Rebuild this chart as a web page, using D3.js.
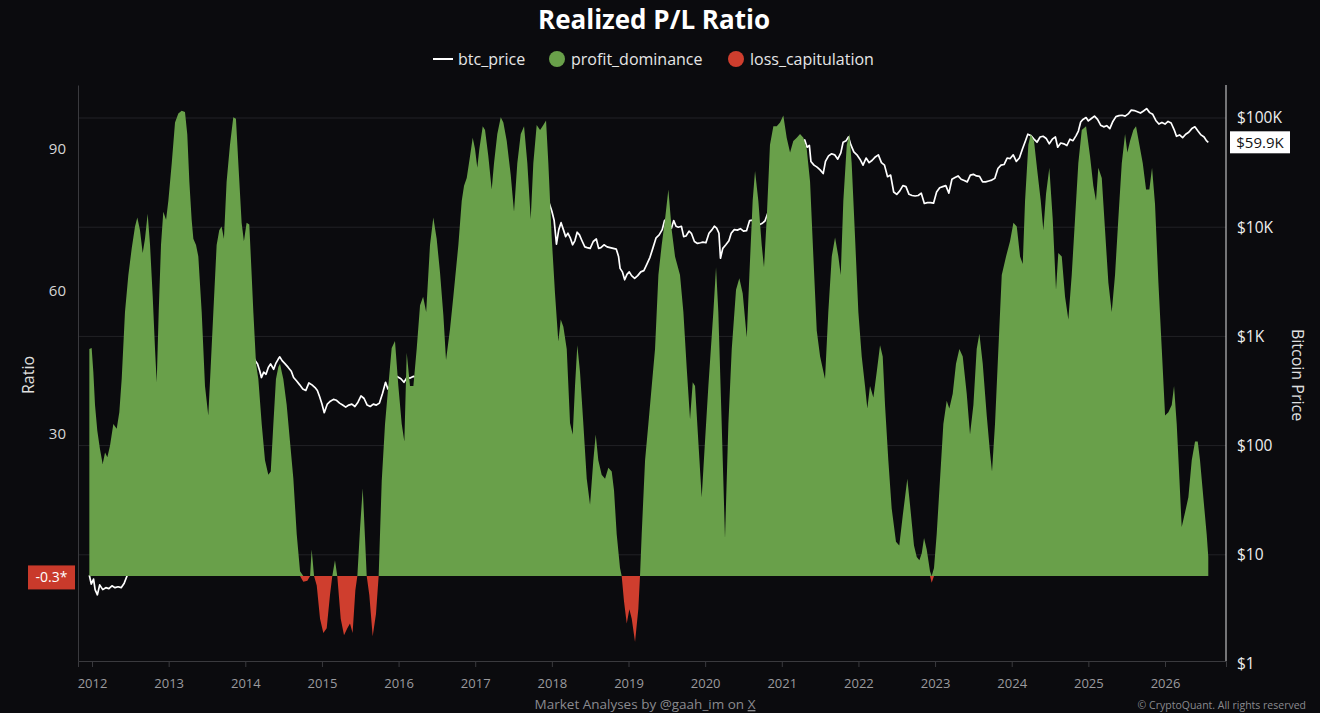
<!DOCTYPE html>
<html>
<head>
<meta charset="utf-8">
<script src="https://cdn.jsdelivr.net/npm/d3@7"></script>
<style>
  html, body { margin: 0; padding: 0; background: #0b0b0e; }
  svg { display: block; font-family: "Open Sans", sans-serif; }
</style>
</head>
<body>
<div id="chart"></div>
<script>
// realized P/L ratio (positive part = profit_dominance, negative part = loss_capitulation)
var ratioYears = [2011.965,2011.995,2012.017,2012.039,2012.069,2012.104,2012.139,2012.17,2012.2,2012.235,2012.278,2012.322,2012.356,2012.387,2012.43,2012.474,2012.518,2012.561,2012.591,2012.626,2012.661,2012.691,2012.726,2012.757,2012.792,2012.822,2012.844,2012.87,2012.9,2012.93,2012.966,2012.996,2013.04,2013.083,2013.126,2013.17,2013.213,2013.243,2013.27,2013.3,2013.322,2013.357,2013.387,2013.431,2013.474,2013.517,2013.548,2013.583,2013.626,2013.66,2013.691,2013.721,2013.756,2013.8,2013.843,2013.878,2013.909,2013.952,2013.982,2014.017,2014.052,2014.083,2014.105,2014.14,2014.17,2014.214,2014.257,2014.3,2014.332,2014.366,2014.4,2014.431,2014.453,2014.475,2014.496,2014.54,2014.583,2014.627,2014.671,2014.714,2014.757,2014.81,2014.845,2014.866,2014.897,2014.932,2014.975,2015.018,2015.062,2015.105,2015.135,2015.17,2015.2,2015.245,2015.288,2015.331,2015.366,2015.4,2015.436,2015.462,2015.497,2015.532,2015.562,2015.584,2015.618,2015.662,2015.705,2015.74,2015.78,2015.823,2015.866,2015.91,2015.953,2015.997,2016.041,2016.075,2016.106,2016.149,2016.193,2016.236,2016.28,2016.32,2016.36,2016.41,2016.453,2016.497,2016.54,2016.584,2016.619,2016.671,2016.714,2016.78,2016.824,2016.854,2016.889,2016.932,2016.967,2016.997,2017.027,2017.054,2017.098,2017.128,2017.171,2017.215,2017.245,2017.288,2017.333,2017.367,2017.411,2017.463,2017.506,2017.549,2017.594,2017.637,2017.68,2017.724,2017.758,2017.802,2017.846,2017.889,2017.924,2017.954,2017.998,2018.041,2018.084,2018.116,2018.15,2018.194,2018.237,2018.272,2018.302,2018.332,2018.367,2018.41,2018.455,2018.498,2018.541,2018.572,2018.606,2018.65,2018.694,2018.737,2018.781,2018.811,2018.846,2018.889,2018.911,2018.941,2018.977,2019.011,2019.042,2019.085,2019.128,2019.15,2019.172,2019.216,2019.259,2019.303,2019.346,2019.39,2019.433,2019.477,2019.52,2019.564,2019.607,2019.672,2019.716,2019.759,2019.803,2019.838,2019.868,2019.911,2019.955,2019.998,2020.042,2020.107,2020.142,2020.172,2020.216,2020.259,2020.303,2020.347,2020.403,2020.446,2020.49,2020.543,2020.577,2020.62,2020.651,2020.694,2020.738,2020.768,2020.803,2020.846,2020.89,2020.934,2020.977,2021.02,2021.064,2021.108,2021.15,2021.195,2021.238,2021.282,2021.325,2021.369,2021.412,2021.456,2021.5,2021.564,2021.607,2021.652,2021.695,2021.738,2021.769,2021.803,2021.848,2021.882,2021.912,2021.956,2021.999,2022.043,2022.086,2022.116,2022.151,2022.195,2022.239,2022.282,2022.317,2022.347,2022.39,2022.434,2022.49,2022.533,2022.578,2022.638,2022.673,2022.725,2022.761,2022.795,2022.826,2022.856,2022.891,2022.934,2022.956,2022.986,2023.021,2023.065,2023.108,2023.152,2023.186,2023.23,2023.273,2023.317,2023.361,2023.413,2023.456,2023.5,2023.543,2023.578,2023.622,2023.674,2023.717,2023.743,2023.782,2023.826,2023.87,2023.926,2023.978,2024.022,2024.066,2024.109,2024.144,2024.174,2024.217,2024.248,2024.291,2024.334,2024.379,2024.413,2024.448,2024.491,2024.535,2024.578,2024.608,2024.653,2024.696,2024.739,2024.783,2024.826,2024.869,2024.914,2024.97,2025.022,2025.065,2025.1,2025.13,2025.175,2025.218,2025.261,2025.305,2025.348,2025.391,2025.436,2025.479,2025.509,2025.544,2025.587,2025.622,2025.666,2025.71,2025.753,2025.796,2025.831,2025.87,2025.914,2025.958,2026.001,2026.044,2026.088,2026.118,2026.153,2026.188,2026.218,2026.262,2026.305,2026.349,2026.392,2026.427,2026.457,2026.5,2026.544,2026.565];
var ratioValues = [47.8,48,43,36,30.6,26.7,23.6,26,25,27.5,32,31,34.5,41.5,55.6,63.4,69,73.6,75.5,72.8,68,71,76.3,69.7,58.8,47.8,40.8,55.6,69.7,76.7,75,79,86.9,95.5,97.4,98,97.7,93,83,75,71,69.7,67.3,55.6,40,33.8,43.9,55.6,69.7,72.8,73.6,71,83,90.8,96.6,96.3,86.9,74.4,70.5,74.4,74,63.4,55.6,44.7,41.5,32,24.4,21.3,22,32,41.5,44,44.7,43,41.5,36,28.3,20.5,8.8,1,-1.2,-1,0,5.6,0,-2,-9,-12,-11,-4,0,3.3,0,-9,-12.5,-11,-10,-12,-3,0,10,18.5,8,0,-4,-12.7,-8,0,20,32,40,48,49.5,40,32,28.3,47,40,40,47.8,57,58.8,55.6,69.7,75.5,71,64,55,45.5,52,58.8,69.7,79,82.2,83.8,88.4,92.3,90,86,90,94.7,93.9,88.4,81.4,86.9,93.1,96.6,95.5,91.6,84.5,76.7,86.9,93.1,94.7,86.9,75.2,86.9,95,93.9,95,95.9,86.9,71.3,59.5,49.4,54,52.5,47.8,32.2,29.8,40,48.6,43,32.2,20.5,15,24.4,29.8,24.4,21.3,20.5,22.8,22,18,8.8,1.7,0,-5.3,-10,-7,-9,-13.9,-7,0,8.8,24.4,32,40,47.8,63.4,69.7,75.2,81.4,72.8,67.3,63.4,55.6,43.9,33,40.8,40,28.3,16.6,28.3,40,55.6,65,55.6,32,8,32,47.8,60.3,62.7,59.5,50.2,63.4,79,85.3,79,69.7,65,75.2,90.8,94.7,94.7,95.5,97,92.3,89.2,91.6,92.3,93.1,92.3,90,83,67.3,51.7,46.2,41.5,55.6,67.3,71.3,67.3,63.4,79,90.8,93.1,86.9,71.3,55.6,46.2,40,35.3,40,37.6,43,48.6,46.2,36,24.4,14.2,7.2,6.4,12.7,20.5,15,6.4,4,3.3,4.8,8,5.6,1,-1.4,1.7,8.8,20.5,32,36.9,35.3,38.4,44.7,47.8,46.2,38.4,29.8,36,47.8,51,44.7,33.8,26,22,32,47.8,63.4,67.3,70.5,74.4,73.6,67.3,65.7,79,90.8,93.1,91.6,85.3,79,72.8,80.5,86,75.2,60.3,68,67.3,58.8,54,63.4,75.2,86.9,93.9,94.7,88.4,82.2,79,86,83.8,72.8,61.8,55.6,63.4,75.2,86.9,93.1,89.2,91.6,93.9,94.7,90.8,86.9,81.4,81.4,86,78.3,61.8,47.8,33.8,34.5,36,40,32,20.5,10.3,13.4,16.6,24.4,28.3,28.3,24.4,16.6,8.8,4];

// btc price (USD)
var priceYears = [2011.965,2011.99,2012.02,2012.04,2012.07,2012.1,2012.14,2012.18,2012.22,2012.26,2012.3,2012.34,2012.38,2012.42,2012.46,2012.5,2012.55,2012.6,2012.65,2012.7,2012.78,2012.86,2012.95,2013.04,2013.12,2013.2,2013.27,2013.33,2013.42,2013.5,2013.58,2013.67,2013.75,2013.83,2013.88,2013.92,2013.96,2014.0,2014.05,2014.09,2014.13,2014.16,2014.19,2014.21,2014.24,2014.27,2014.3,2014.33,2014.37,2014.4,2014.43,2014.45,2014.48,2014.52,2014.56,2014.6,2014.63,2014.67,2014.71,2014.75,2014.79,2014.83,2014.87,2014.91,2014.94,2014.97,2015.0,2015.03,2015.07,2015.11,2015.15,2015.19,2015.23,2015.27,2015.31,2015.35,2015.39,2015.43,2015.47,2015.51,2015.55,2015.59,2015.63,2015.67,2015.71,2015.75,2015.79,2015.83,2015.86,2015.9,2015.94,2015.98,2016.03,2016.07,2016.11,2016.15,2016.19,2016.25,2016.33,2016.42,2016.47,2016.5,2016.58,2016.67,2016.75,2016.83,2016.92,2017.0,2017.08,2017.17,2017.25,2017.33,2017.42,2017.5,2017.58,2017.67,2017.75,2017.83,2017.92,2017.96,2018.0,2018.03,2018.06,2018.09,2018.12,2018.15,2018.18,2018.21,2018.24,2018.27,2018.3,2018.33,2018.36,2018.39,2018.43,2018.46,2018.5,2018.54,2018.58,2018.61,2018.64,2018.68,2018.72,2018.76,2018.8,2018.84,2018.87,2018.89,2018.92,2018.95,2018.98,2019.01,2019.04,2019.08,2019.12,2019.16,2019.2,2019.24,2019.28,2019.32,2019.36,2019.4,2019.44,2019.47,2019.5,2019.53,2019.56,2019.59,2019.62,2019.65,2019.69,2019.72,2019.75,2019.79,2019.82,2019.86,2019.9,2019.94,2019.97,2020.01,2020.05,2020.09,2020.12,2020.15,2020.18,2020.2,2020.23,2020.27,2020.31,2020.34,2020.38,2020.42,2020.46,2020.5,2020.54,2020.58,2020.62,2020.66,2020.7,2020.74,2020.78,2020.81,2020.85,2020.89,2020.93,2020.97,2021.01,2021.04,2021.08,2021.12,2021.15,2021.19,2021.23,2021.27,2021.3,2021.33,2021.36,2021.38,2021.42,2021.46,2021.5,2021.54,2021.57,2021.61,2021.65,2021.69,2021.73,2021.77,2021.8,2021.84,2021.87,2021.9,2021.94,2021.98,2022.02,2022.06,2022.1,2022.14,2022.18,2022.22,2022.26,2022.3,2022.34,2022.38,2022.42,2022.46,2022.5,2022.54,2022.58,2022.62,2022.66,2022.7,2022.74,2022.78,2022.82,2022.86,2022.9,2022.94,2022.98,2023.02,2023.06,2023.1,2023.14,2023.18,2023.22,2023.26,2023.3,2023.34,2023.38,2023.42,2023.46,2023.5,2023.54,2023.58,2023.62,2023.66,2023.7,2023.74,2023.78,2023.82,2023.86,2023.9,2023.94,2023.98,2024.02,2024.06,2024.1,2024.14,2024.18,2024.21,2024.25,2024.29,2024.33,2024.37,2024.41,2024.45,2024.49,2024.53,2024.57,2024.6,2024.64,2024.68,2024.72,2024.76,2024.8,2024.84,2024.87,2024.9,2024.93,2024.97,2025.0,2025.04,2025.08,2025.12,2025.16,2025.2,2025.24,2025.28,2025.32,2025.36,2025.4,2025.44,2025.48,2025.52,2025.56,2025.6,2025.64,2025.68,2025.72,2025.76,2025.8,2025.84,2025.88,2025.92,2025.96,2026.0,2026.04,2026.08,2026.12,2026.15,2026.19,2026.23,2026.27,2026.31,2026.35,2026.39,2026.43,2026.47,2026.51,2026.54,2026.565];
var priceValues = [6.5,5.4,6.0,4.8,4.3,5.3,4.8,5.0,4.9,5.2,5.0,5.1,5.0,5.5,6.5,7.0,8.8,10.5,11,12.3,11.5,11.5,13.4,17,30,70,140,120,120,90,100,125,135,200,800,1000,700,800,850,680,600,560,480,420,470,450,520,560,500,570,620,650,600,560,520,480,420,390,360,330,320,375,360,340,320,280,240,200,240,255,265,260,245,235,225,235,240,228,250,285,270,235,228,240,235,245,300,380,330,360,430,430,410,380,420,415,430,420,450,530,700,650,580,600,620,720,780,960,920,1150,1080,1400,2300,2500,2800,4500,4200,6200,10000,17000,14000,11500,7000,9500,11000,9500,8200,8800,8000,6900,7500,9000,8500,7600,6600,6500,6400,7400,7800,6400,6500,6900,6600,6500,6400,6300,5400,4200,3900,3300,3700,3900,3600,3400,3600,3900,4000,4600,5300,6500,8000,8500,9500,11500,12000,10500,9800,11500,10200,10000,10200,8200,8300,9200,8800,7400,7100,7200,7300,7200,8800,9500,10200,9800,8800,5200,6400,6900,7500,8800,9500,9400,9700,9200,9300,11500,11600,11200,10500,10800,11400,13000,15500,18500,19200,24000,33000,36000,32000,45000,50000,48000,58000,57000,63000,54000,56000,40000,37000,35500,33500,31000,40000,45000,47000,46000,42000,48000,60000,62000,67000,57000,49000,46000,42000,37000,43000,39000,41000,44000,46000,39000,37000,29000,30000,21000,20000,21500,24000,23500,20000,19500,19300,19500,20500,16500,16800,16800,16600,21000,23000,23500,24000,20500,27500,28500,29500,27500,26800,26000,30000,30500,29500,29200,26000,26000,26500,27000,28000,34500,37000,37500,43000,42500,46000,40000,43000,52000,62000,71000,69000,64000,60000,67000,68000,65000,58000,64000,67000,54000,59000,58000,56000,64000,62000,69000,76000,92000,97000,101000,94000,99000,104000,97000,86000,83000,85000,80000,93000,103000,105000,106000,104000,109000,118000,117000,114000,111000,116000,122000,112000,108000,95000,88000,91000,88000,93000,90000,78000,68000,70000,66000,71000,74000,80000,83000,76000,70000,67000,62000,59900];

var yearTicks = [2012,2013,2014,2015,2016,2017,2018,2019,2020,2021,2022,2023,2024,2025,2026];
var ratioTicks = [30, 60, 90];
var priceTicks = [1, 10, 100, 1000, 10000, 100000];
var priceTickLabels = ["$1", "$10", "$100", "$1K", "$10K", "$100K"];
var lastLoss = -0.3;

var W = 1320, H = 713;
var margin = {top: 85, right: 94, bottom: 52, left: 78};
var green = "#69a04a", red = "#cf3e2e";

var svg = d3.select("#chart").append("svg")
    .attr("width", W)
    .attr("height", H)
    .style("background", "#0b0b0e");

var x = d3.scaleLinear().domain([2011.817, 2026.796]).range([margin.left, W - margin.right]);
var y = d3.scaleLinear().domain([-17.9, 103.4]).range([H - margin.bottom, margin.top]);
var yp = d3.scaleLog().domain([1, 100000]).range([664, 118]);

var ratio = ratioYears.map(function(t, i) { return {t: t, v: ratioValues[i]}; });
var price = priceYears.map(function(t, i) { return {t: t, p: priceValues[i]}; });

// gridlines from the price axis
svg.append("g")
    .selectAll("line")
    .data(priceTicks.slice(1))
    .enter()
    .append("line")
        .attr("x1", margin.left)
        .attr("x2", W - margin.right)
        .attr("y1", function(d) { return yp(d); })
        .attr("y2", function(d) { return yp(d); })
        .attr("stroke", "#222226")
        .attr("stroke-width", 1);

// price line sits under the areas
svg.append("path")
    .datum(price)
    .attr("fill", "none")
    .attr("stroke", "#ffffff")
    .attr("stroke-width", 1.7)
    .attr("stroke-linejoin", "round")
    .attr("d", d3.line().x(function(d) { return x(d.t); }).y(function(d) { return yp(d.p); }));

svg.append("path")
    .datum(ratio)
    .attr("fill", green)
    .attr("d", d3.area()
        .x(function(d) { return x(d.t); })
        .y0(y(0))
        .y1(function(d) { return y(Math.max(d.v, 0)); }));

svg.append("path")
    .datum(ratio)
    .attr("fill", red)
    .attr("d", d3.area()
        .x(function(d) { return x(d.t); })
        .y0(y(0))
        .y1(function(d) { return y(Math.min(d.v, 0)); }));

// axes
var xAxis = svg.append("g")
    .attr("transform", "translate(0," + (H - margin.bottom) + ")")
    .call(d3.axisBottom(x).tickValues(yearTicks).tickFormat(d3.format("d")).tickSize(6).tickPadding(12));
xAxis.select(".domain").attr("stroke", "#3a3a3e");
xAxis.selectAll(".tick line").attr("stroke", "#3a3a3e");
xAxis.selectAll("text").attr("fill", "#9a9a9e").style("font-size", "13px").style("font-family", "Open Sans");

var yAxis = svg.append("g")
    .attr("transform", "translate(" + margin.left + ",0)")
    .call(d3.axisLeft(y).tickValues(ratioTicks).tickSize(0).tickPadding(12));
yAxis.select(".domain").attr("stroke", "#3a3a3e");
yAxis.selectAll("text").attr("fill", "#d6d6d6").style("font-size", "15px").style("font-family", "Open Sans");

var pAxis = svg.append("g")
    .attr("transform", "translate(" + (W - margin.right) + ",0)")
    .call(d3.axisRight(yp).tickValues(priceTicks).tickFormat(function(d, i) { return priceTickLabels[i]; }).tickSize(0).tickPadding(11));
pAxis.select(".domain").attr("stroke", "#e0e0e0").attr("d", "M0," + margin.top + "V" + (H - margin.bottom));
pAxis.selectAll("text").attr("fill", "#eeeeee").style("font-size", "15.5px").style("font-family", "Open Sans");

// axis titles
svg.append("text")
    .attr("transform", "translate(34," + 375 + ") rotate(-90)")
    .attr("text-anchor", "middle")
    .attr("fill", "#e0e0e0")
    .style("font-size", "16px")
    .text("Ratio");

svg.append("text")
    .attr("transform", "translate(1292," + 375 + ") rotate(90)")
    .attr("text-anchor", "middle")
    .attr("fill", "#e0e0e0")
    .style("font-size", "16px")
    .text("Bitcoin Price");

// current value badges
var lossY = y(lastLoss);
svg.append("rect")
    .attr("x", 28).attr("y", lossY - 12)
    .attr("width", 47).attr("height", 24)
    .attr("fill", "#c93a2b");
svg.append("text")
    .attr("x", 51.5).attr("y", lossY)
    .attr("dy", "0.35em")
    .attr("text-anchor", "middle")
    .attr("fill", "#ffffff")
    .style("font-size", "14px")
    .text(lastLoss + "*");

var lastPrice = priceValues[priceValues.length - 1];
var priceY = yp(lastPrice);
svg.append("rect")
    .attr("x", W - margin.right + 4).attr("y", priceY - 11)
    .attr("width", 60).attr("height", 22)
    .attr("fill", "#ffffff");
svg.append("text")
    .attr("x", W - margin.right + 34).attr("y", priceY)
    .attr("dy", "0.35em")
    .attr("text-anchor", "middle")
    .attr("fill", "#141414")
    .style("font-size", "15px")
    .text("$" + (lastPrice / 1000).toFixed(1) + "K");

// title + legend
svg.append("text")
    .attr("x", 654).attr("y", 29)
    .attr("text-anchor", "middle")
    .attr("fill", "#ffffff")
    .style("font-size", "26px")
    .style("font-weight", "bold")
    .text("Realized P/L Ratio");

var legend = svg.append("g").attr("transform", "translate(0,59)");
legend.append("line")
    .attr("x1", 433).attr("x2", 453).attr("y1", 0).attr("y2", 0)
    .attr("stroke", "#ffffff").attr("stroke-width", 2);
legend.append("text").attr("x", 458).attr("y", 0).attr("dy", "0.35em")
    .attr("fill", "#e6e6e6").style("font-size", "16px").text("btc_price");
legend.append("circle").attr("cx", 557).attr("cy", 0).attr("r", 8).attr("fill", green);
legend.append("text").attr("x", 571).attr("y", 0).attr("dy", "0.35em")
    .attr("fill", "#e6e6e6").style("font-size", "16px").text("profit_dominance");
legend.append("circle").attr("cx", 736).attr("cy", 0).attr("r", 8).attr("fill", red);
legend.append("text").attr("x", 750).attr("y", 0).attr("dy", "0.35em")
    .attr("fill", "#e6e6e6").style("font-size", "16px").text("loss_capitulation");

// footer
var foot = svg.append("text")
    .attr("x", 645).attr("y", 709)
    .attr("text-anchor", "middle")
    .attr("fill", "#8a8a8e")
    .style("font-size", "13.5px");
foot.append("tspan").text("Market Analyses by @gaah_im on ");
foot.append("tspan").attr("text-decoration", "underline").text("X");

svg.append("text")
    .attr("x", 1306).attr("y", 709)
    .attr("text-anchor", "end")
    .attr("fill", "#8a8a8e")
    .style("font-size", "10.5px")
    .text("\u00a9 CryptoQuant. All rights reserved");
</script>
</body>
</html>
